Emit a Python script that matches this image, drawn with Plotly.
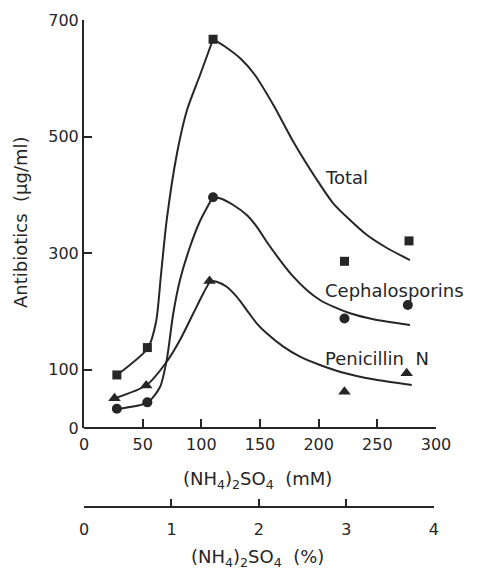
import plotly.graph_objects as go

# ---- measured data points ----
conc_mM = [28, 54, 110, 222, 277]
total_pts = [91, 138, 667, 286, 321]
x_ceph = [28, 54, 110, 222, 276]
ceph_pts = [33, 44, 396, 188, 211]
x_pen = [26, 53, 107, 222, 275]
pen_pts = [51, 73, 252, 62, 94]

# ---- fitted curves, rising and falling branches ----
total_rise_x = [28.1, 54.5, 61.4, 65.6, 70.5, 79.3, 87.8, 98.9, 110]
total_rise_y = [90.9, 137.3, 181.9, 262.5, 356.9, 471.8, 545.6, 605.6, 667]
total_fall_x = [110, 121.9, 133.8, 145.7, 161.9, 179.0, 198.6, 212.2, 226.7, 241.2, 258.2, 277.8]
total_fall_y = [667, 652, 633.1, 605.6, 552.4, 489, 425.5, 386, 356.9, 331.1, 308.8, 288.2]

ceph_rise_x = [27.9, 54.3, 64.8, 70.5, 76.1, 81.8, 90.3, 98.9, 109.7]
ceph_rise_y = [32.6, 44.1, 70.3, 116.7, 196.8, 253.9, 310.5, 355.1, 395.8]
ceph_fall_x = [109.7, 115.9, 127.2, 138.7, 147.2, 155.7, 167.0, 178.4, 189.8, 201.1, 212.5, 226.7, 246.6, 277.8]
ceph_fall_y = [395.8, 394.1, 382.6, 365.4, 345.4, 319.6, 288.2, 259.6, 236.8, 219.6, 208.1, 196.8, 186.5, 176.7]

pen_rise_x = [26.4, 53.4, 70.5, 81.8, 93.2, 101.7, 107.4]
pen_rise_y = [51, 73.8, 113.7, 151, 196.8, 231.1, 252]
pen_fall_x = [107.4, 113.1, 121.6, 130.1, 138.7, 147.2, 155.7, 169.9, 184.1, 201.1, 221, 246.6, 279.3]
pen_fall_y = [252, 251, 242.4, 225.3, 202.4, 179.6, 162.5, 139.5, 122.3, 108.1, 94.9, 83.6, 73.8]

y_ticks = [0, 100, 300, 500, 700]
x_ticks = [0, 50, 100, 150, 200, 250, 300]
pct_ticks = [0, 1, 2, 3, 4]

INK = "#262626"
FONT = "DejaVu Sans"

fig = go.Figure()

line_style = dict(color=INK, width=2, shape="spline", smoothing=0.7)
for cx, cy in [(total_rise_x, total_rise_y), (total_fall_x, total_fall_y),
               (ceph_rise_x, ceph_rise_y), (ceph_fall_x, ceph_fall_y),
               (pen_rise_x, pen_rise_y), (pen_fall_x, pen_fall_y)]:
    fig.add_trace(go.Scatter(x=cx, y=cy, mode="lines", line=line_style,
                             showlegend=False, hoverinfo="skip"))

fig.add_trace(go.Scatter(x=conc_mM, y=total_pts, mode="markers",
                         marker=dict(symbol="square", size=9, color=INK), name="Total", showlegend=False))
fig.add_trace(go.Scatter(x=x_ceph, y=ceph_pts, mode="markers",
                         marker=dict(symbol="circle", size=10, color=INK), name="Cephalosporins", showlegend=False))
fig.add_trace(go.Scatter(x=x_pen, y=pen_pts, mode="markers",
                         marker=dict(symbol="triangle-up", size=11, color=INK), name="Penicillin N", showlegend=False))

# empty trace to carry the percentage axis
fig.add_trace(go.Scatter(x=[], y=[], xaxis="x2", yaxis="y", showlegend=False, hoverinfo="skip"))

W, H = 482, 572
ml, mr, mt, mb = 84, 46, 20, 65
plot_h = H - mt - mb
main_pos = 79 / plot_h

axis_common = dict(showline=True, linecolor=INK, linewidth=2, ticks="inside",
                   tickcolor=INK, tickwidth=2, showgrid=False, zeroline=False,
                   tickfont=dict(family=FONT, size=16, color=INK))

fig.update_layout(
    width=W, height=H,
    margin=dict(l=ml, r=mr, t=mt, b=mb),
    plot_bgcolor="rgba(0,0,0,0)", paper_bgcolor="white",
    xaxis=dict(range=[0, 300], tickvals=x_ticks, ticklen=8, anchor="free",
               position=main_pos, domain=[0, 1], ticklabelstandoff=2, **axis_common),
    xaxis2=dict(range=[0, 4], tickvals=pct_ticks, ticklen=7, anchor="free",
                position=0, domain=[0, 0.994], ticklabelstandoff=8, **axis_common),
    yaxis=dict(range=[0, 700], tickvals=y_ticks, ticklen=8, anchor="x",
               domain=[main_pos, 1], **axis_common),
)

lab_font = dict(family=FONT, size=18, color=INK)
fig.add_annotation(x=204, y=429, xref="x", yref="y", text="Total", showarrow=False,
                   xanchor="left", yanchor="middle", font=lab_font)
fig.add_annotation(x=204, y=236, xref="x", yref="y", text="Cephalosporins", showarrow=False,
                   xanchor="left", yanchor="middle", font=lab_font)
fig.add_annotation(x=204, y=120, xref="x", yref="y", text="Penicillin\u00a0\u00a0N", showarrow=False,
                   xanchor="left", yanchor="middle", font=lab_font)

title_font = dict(family=FONT, size=18, color=INK)
fig.add_annotation(x=148, y=(507 - 480) / plot_h, xref="x", yref="paper",
                   text="(NH<sub>4</sub>)<sub>2</sub>SO<sub>4</sub>\u00a0\u00a0(mM)",
                   showarrow=False, xanchor="center", yanchor="middle", font=title_font)
fig.add_annotation(x=148, y=(507 - 558) / plot_h, xref="x", yref="paper",
                   text="(NH<sub>4</sub>)<sub>2</sub>SO<sub>4</sub>\u00a0\u00a0(%)",
                   showarrow=False, xanchor="center", yanchor="middle", font=title_font)
fig.add_annotation(x=(20 - ml) / (W - ml - mr), y=(507 - 222) / plot_h, xref="paper", yref="paper",
                   text="Antibiotics\u00a0\u00a0(μg/ml)", textangle=-90,
                   showarrow=False, xanchor="center", yanchor="middle", font=title_font)

fig.write_html("out.html")
